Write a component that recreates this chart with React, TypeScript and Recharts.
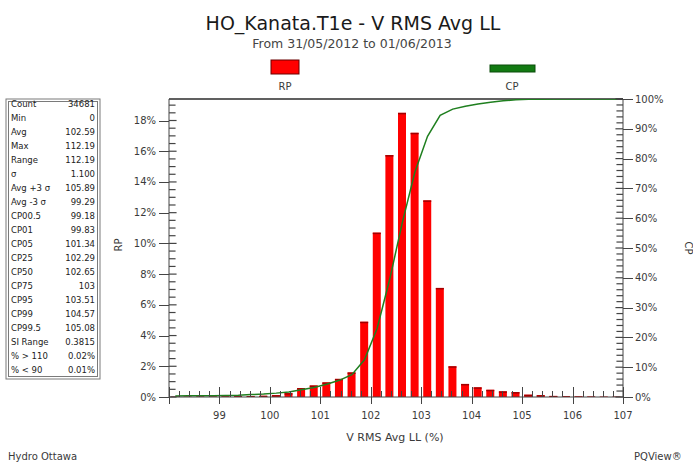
import React from 'react';
import { Bar, ComposedChart, Line, ReferenceLine, XAxis, YAxis } from 'recharts';

// histogram bins, 0.25 % wide, keyed by bin centre
const binCenters = [
  98.125, 98.375, 98.625, 98.875, 99.125, 99.375, 99.625, 99.875,
  100.125, 100.375, 100.625, 100.875, 101.125, 101.375, 101.625, 101.875,
  102.125, 102.375, 102.625, 102.875, 103.125, 103.375, 103.625, 103.875,
  104.125, 104.375, 104.625, 104.875, 105.125, 105.375, 105.625, 105.875,
  106.125, 106.375, 106.625, 106.875,
];

// RP: relative probability per bin (%)
const rpValues = [
  0.02, 0.02, 0.03, 0.03, 0.04, 0.05, 0.06, 0.08,
  0.12, 0.25, 0.58, 0.75, 0.95, 1.18, 1.6, 4.9,
  10.7, 15.75, 18.5, 17.2, 12.8, 7.1, 2.0, 0.85,
  0.63, 0.47, 0.37, 0.32, 0.15, 0.12, 0.07, 0.05,
  0.04, 0.03, 0.02, 0.02,
];

// CP: cumulative probability (%)
const cpValues = [
  0.35, 0.38, 0.4, 0.45, 0.5, 0.6, 0.8, 1.0,
  1.3, 1.7, 2.4, 3.2, 4.3, 5.6, 7.5, 12.5,
  23, 39.5, 58.5, 75.5, 87.5, 94.5, 96.6, 97.6,
  98.3, 98.9, 99.4, 99.75, 99.88, 99.94, 99.97, 99.98,
  99.99, 99.99, 100, 100,
];

const statLabels = [
  'Count', 'Min', 'Avg', 'Max', 'Range', 'σ', 'Avg +3 σ', 'Avg -3 σ',
  'CP00.5', 'CP01', 'CP05', 'CP25', 'CP50', 'CP75', 'CP95', 'CP99', 'CP99.5',
  'SI Range', '% > 110', '% < 90',
];
const statValues = [
  '34681', '0', '102.59', '112.19', '112.19', '1.100', '105.89', '99.29',
  '99.18', '99.83', '101.34', '102.29', '102.65', '103', '103.51', '104.57', '105.08',
  '0.3815', '0.02%', '0.01%',
];

const rpTicks = [0, 2, 4, 6, 8, 10, 12, 14, 16, 18];
const cpTicks = [0, 10, 20, 30, 40, 50, 60, 70, 80, 90, 100];

const X_MIN = 98;
const X_MAX = 107;
const RP_MAX = 19.4;

const isStep = (v: number, step: number) => Math.abs(v / step - Math.round(v / step)) < 1e-6;

const xTicks = Array.from({ length: 46 }, (_, i) => Math.round((X_MIN + i * 0.2) * 10) / 10);
// unlabelled marks between the labelled ones
const rpMinor = Array.from({ length: 38 }, (_, i) => (i + 1) * 0.5).filter((v) => !isStep(v, 2));
const cpMinor = Array.from({ length: 49 }, (_, i) => (i + 1) * 2).filter((v) => !isStep(v, 10));

const data = binCenters.map((bin, i) => ({ bin, rp: rpValues[i], cp: cpValues[i] }));

const W = 693;
const H = 462;
const MARGIN = { top: 99, right: 10, bottom: 25, left: 109 };

const FONT = '"DejaVu Sans", Verdana, sans-serif';
const AXIS = '#444';
const TEXT = '#3a3a3a';

// snap to the pixel grid so 1px tick marks stay crisp
const px = (v: number) => Math.round(v) + 0.5;

function XTick({ x, y, payload }: any) {
  const v = payload.value as number;
  const cx = px(x);
  if (isStep(v, 1)) {
    return (
      <g>
        <line x1={cx} x2={cx} y1={y - 10} y2={y + 7} stroke={AXIS} />
        {v > X_MIN ? (
          <text x={x} y={y + 15} dy='0.71em' textAnchor='middle' fontSize={10} fontFamily={FONT} fill={TEXT}>
            {v}
          </text>
        ) : null}
      </g>
    );
  }
  return <line x1={cx} x2={cx} y1={y - 6} y2={y} stroke={AXIS} />;
}

function RpTick({ x, y, payload }: any) {
  return (
    <g>
      <line x1={x - 10} x2={x} y1={px(y)} y2={px(y)} stroke={AXIS} />
      <text x={x - 13} y={y} dy='0.35em' textAnchor='end' fontSize={10} fontFamily={FONT} fill={TEXT}>
        {`${payload.value}%`}
      </text>
    </g>
  );
}

function CpTick({ x, y, payload }: any) {
  return (
    <g>
      <line x1={x} x2={x + 10} y1={px(y)} y2={px(y)} stroke={AXIS} />
      <text x={x + 12} y={y} dy='0.35em' textAnchor='start' fontSize={10} fontFamily={FONT} fill={TEXT}>
        {`${payload.value}%`}
      </text>
    </g>
  );
}

// inner tick marks on a value axis: a short horizontal stub from the axis line into the plot
function innerTicks(values: number[], axisId: string, fromX: number, toX: number, tag: string) {
  return values.map((v) => (
    <ReferenceLine
      key={`${tag}${v}`}
      yAxisId={axisId}
      segment={[{ x: fromX, y: v }, { x: toX, y: v }]}
      stroke={AXIS}
      strokeWidth={1.2}
      ifOverflow='visible'
    />
  ));
}

// red bar with a darker cap
function RpBar({ x, y, width, height }: any) {
  if (!height || height <= 0) return null;
  return (
    <g>
      <rect x={x} y={y} width={width} height={height} fill='#ff0000' />
      <rect x={x} y={y} width={width} height={Math.min(1.5, height)} fill='#a00000' />
    </g>
  );
}

function StatsBox() {
  const top = 104.5;
  const step = 14;
  return (
    <g fontFamily={FONT} fontSize={8.5} fill='#222'>
      <rect x={6} y={99} width={94} height={280} fill='#fff' stroke='#7a7a7a' />
      <rect x={8.5} y={101.5} width={89} height={275} fill='none' stroke='#7a7a7a' />
      {statLabels.map((label, i) => (
        <g key={label}>
          <text x={11} y={top + i * step} dy='0.35em'>
            {label}
          </text>
          <text x={95} y={top + i * step} dy='0.35em' textAnchor='end'>
            {statValues[i]}
          </text>
        </g>
      ))}
    </g>
  );
}

function Overlay() {
  return (
    <svg width={W} height={H} style={{ position: 'absolute', left: 0, top: 0, pointerEvents: 'none' }}>
      <text x={353} y={23} dy='0.35em' textAnchor='middle' fontFamily={FONT} fontSize={19} fill='#1a1a1a'>
        HO_Kanata.T1e - V RMS Avg LL
      </text>
      <text x={352} y={44} dy='0.35em' textAnchor='middle' fontFamily={FONT} fontSize={12.5} fill='#444'>
        From 31/05/2012 to 01/06/2013
      </text>

      <rect x={271} y={60} width={28} height={14} fill='#ff0000' stroke='#6a0000' />
      <text x={285} y={86} dy='0.35em' textAnchor='middle' fontFamily={FONT} fontSize={10} fill={TEXT}>
        RP
      </text>
      <rect x={490} y={65} width={45} height={7} fill='#127a12' stroke='#0a4d0a' />
      <text x={512} y={86} dy='0.35em' textAnchor='middle' fontFamily={FONT} fontSize={10} fill={TEXT}>
        CP
      </text>

      <StatsBox />

      <text
        x={118}
        y={245}
        dy='0.35em'
        textAnchor='middle'
        fontFamily={FONT}
        fontSize={10}
        fill={TEXT}
        transform='rotate(-90 118 245)'
      >
        RP
      </text>
      <text
        x={688}
        y={248}
        dy='0.35em'
        textAnchor='middle'
        fontFamily={FONT}
        fontSize={10}
        fill={TEXT}
        transform='rotate(90 688 248)'
      >
        CP
      </text>

      <text x={395} y={437} dy='0.35em' textAnchor='middle' fontFamily={FONT} fontSize={11} fill={TEXT}>
        V RMS Avg LL (%)
      </text>
      <text x={8} y={456} dy='0.35em' fontFamily={FONT} fontSize={10} fill={TEXT}>
        Hydro Ottawa
      </text>
      <text x={634} y={456} dy='0.35em' fontFamily={FONT} fontSize={10} fill={TEXT}>
        PQView®
      </text>
    </svg>
  );
}

export default function App() {
  return (
    <div style={{ position: 'absolute', left: 0, top: 0, width: W, height: H, background: '#fff' }}>
      <ComposedChart width={W} height={H} data={data} margin={MARGIN}>
        <XAxis
          dataKey='bin'
          type='number'
          domain={[X_MIN, X_MAX]}
          ticks={xTicks}
          interval={0}
          height={40}
          tickSize={0}
          tickMargin={0}
          tickLine={false}
          tick={XTick}
          axisLine={{ stroke: AXIS }}
          allowDataOverflow
        />
        <YAxis
          yAxisId='left'
          type='number'
          domain={[0, RP_MAX]}
          ticks={rpTicks}
          interval={0}
          width={60}
          tickSize={0}
          tickMargin={0}
          tickLine={false}
          tick={RpTick}
          axisLine={{ stroke: AXIS }}
          allowDataOverflow
        />
        <YAxis
          yAxisId='right'
          orientation='right'
          type='number'
          domain={[0, 100]}
          ticks={cpTicks}
          interval={0}
          width={60}
          tickSize={0}
          tickMargin={0}
          tickLine={false}
          tick={CpTick}
          axisLine={{ stroke: AXIS }}
          allowDataOverflow
        />

        {innerTicks(rpTicks, 'left', X_MIN, X_MIN + 0.15, 'rpM')}
        {innerTicks(rpMinor, 'left', X_MIN, X_MIN + 0.13, 'rp')}
        {innerTicks(cpTicks, 'right', X_MAX - 0.15, X_MAX, 'cpM')}
        {innerTicks(cpMinor, 'right', X_MAX - 0.13, X_MAX, 'cp')}

        <ReferenceLine yAxisId='right' y={100} stroke='#2b2b2b' strokeWidth={1.5} />
        <Bar yAxisId='left' dataKey='rp' barSize={8} shape={RpBar} isAnimationActive={false} />
        <Line
          yAxisId='right'
          dataKey='cp'
          type='linear'
          stroke='#1f7f1f'
          strokeWidth={1.5}
          dot={false}
          isAnimationActive={false}
        />
      </ComposedChart>
      <Overlay />
    </div>
  );
}
